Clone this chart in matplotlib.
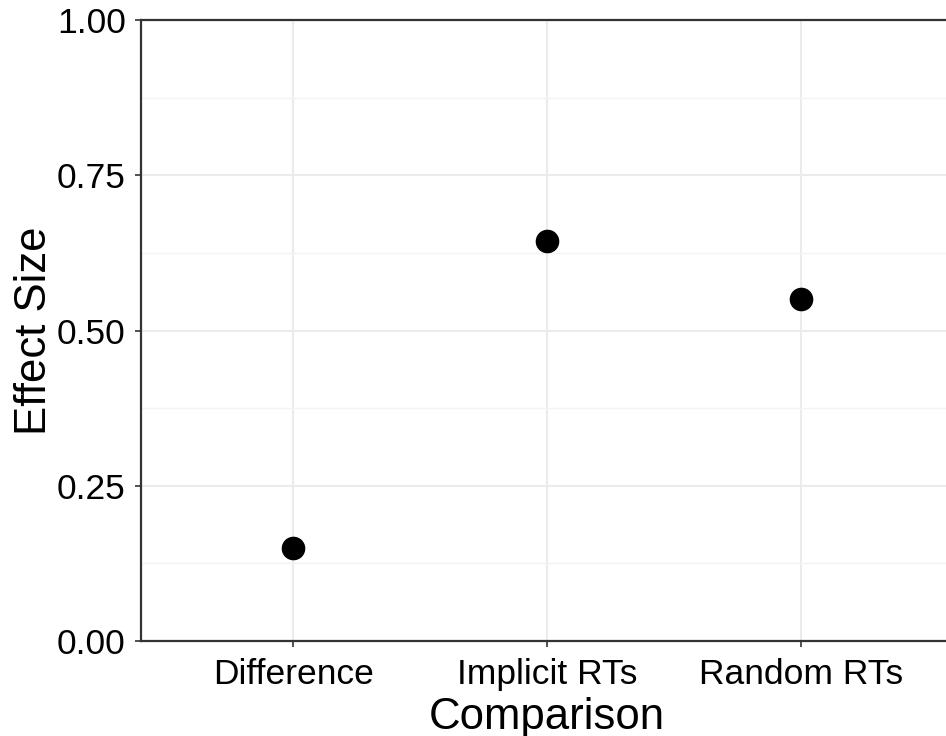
import matplotlib
matplotlib.use("Agg")
from matplotlib import pyplot as plt

# data
comparisons = ["Difference", "Implicit RTs", "Random RTs"]
effect_sizes = [0.15, 0.644, 0.551]
y_ticks = [0.00, 0.25, 0.50, 0.75, 1.00]
y_tick_labels = ["0.00", "0.25", "0.50", "0.75", "1.00"]
y_minor = [0.125, 0.375, 0.625, 0.875]

plt.rcParams["font.family"] = ["Liberation Sans", "DejaVu Sans"]

W, H = 946, 736
fig = plt.figure(figsize=(W / 100, H / 100), dpi=100)
# panel runs past the right edge like the cropped reference
ax = fig.add_axes([141 / W, (H - 641) / H, (953 - 141) / W, (641 - 20) / H])

x = list(range(1, len(comparisons) + 1))
ax.plot(x, effect_sizes, linestyle="none", marker="o", markersize=16,
        color="black", zorder=3)

ax.set_xlim(0.4, 3.6)
ax.set_ylim(0, 1)
ax.set_xticks(x)
ax.set_xticklabels(comparisons)
ax.set_yticks(y_ticks)
ax.set_yticklabels(y_tick_labels)
ax.set_yticks(y_minor, minor=True)

ax.grid(True, which="major", color="#EBEBEB", linewidth=1.5, zorder=0)
ax.grid(True, which="minor", axis="y", color="#F3F3F3", linewidth=1.0, zorder=0)
ax.set_axisbelow(True)

for side in ["left", "bottom", "top", "right"]:
    ax.spines[side].set_color("#333333")
    ax.spines[side].set_linewidth(1.6)

ax.tick_params(axis="both", which="major", direction="out", length=4,
               width=1.2, color="#333333", labelsize=25.5, labelcolor="black")
ax.tick_params(axis="x", which="major", pad=8.3)
ax.tick_params(axis="y", which="major", pad=7)
ax.tick_params(axis="y", which="minor", length=0)

ax.set_xlabel("Comparison", fontsize=31.5, labelpad=4)
ax.set_ylabel("Effect Size", fontsize=31.5, labelpad=1)

fig.savefig("out.png", dpi=100)
